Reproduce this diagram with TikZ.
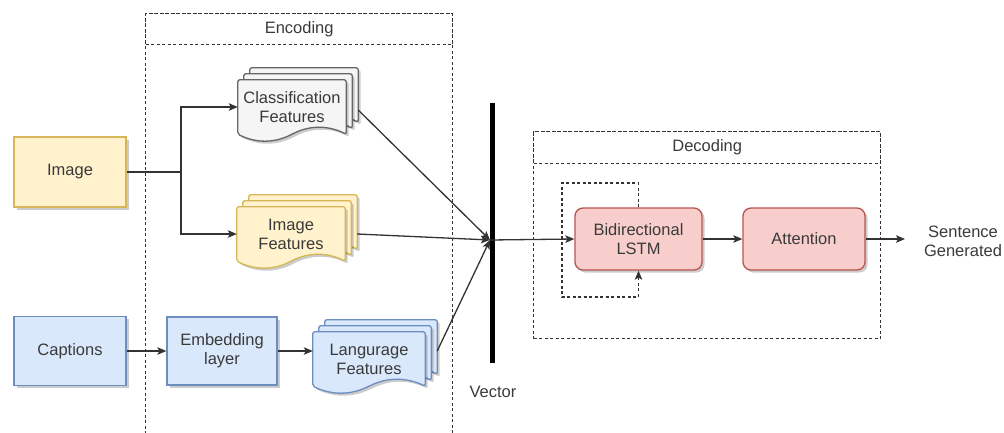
\documentclass[tikz,border=0pt]{standalone}
\usepackage{fontspec}
\setmainfont{Liberation Sans}
\usetikzlibrary{arrows.meta,calc,shadows,backgrounds}

\definecolor{yfill}{HTML}{FFF2CC}\definecolor{yline}{HTML}{D6B656}
\definecolor{bfill}{HTML}{DAE8FC}\definecolor{bline}{HTML}{6C8EBF}
\definecolor{gfill}{HTML}{F5F5F5}\definecolor{gline}{HTML}{666666}
\definecolor{rfill}{HTML}{F8CECC}\definecolor{rline}{HTML}{B85450}
\definecolor{ink}{HTML}{3A3A3A}

% three stacked pages with a wavy lower edge, behind the node #1
\newcommand\docstack[2]{%
  \foreach \d in {12,6,0}{%
    \path[#2] let \p1=(#1.north west), \p2=(#1.south east), \n1={\x2-\x1} in
      ({\x1+\d pt},{\y1+\d pt}) -- ({\x2+\d pt},{\y1+\d pt}) -- ({\x2+\d pt},{\y2+\d pt})
      .. controls ({\x2+\d pt-\n1/6},{\y2+\d pt+9pt}) and ({\x2+\d pt-\n1/3},{\y2+\d pt+9pt}) .. ({\x1+\d pt+\n1/2},{\y2+\d pt})
      .. controls ({\x1+\d pt+\n1/3},{\y2+\d pt-9pt}) and ({\x1+\d pt+\n1/6},{\y2+\d pt-9pt}) .. ({\x1+\d pt},{\y2+\d pt})
      -- cycle;
  }}

\begin{document}
\begin{tikzpicture}[x=1pt,y=-1pt,
  font=\fontsize{16.5}{19}\selectfont,
  every node/.style={text=ink, align=center},
  shade3/.style={drop shadow={shadow xshift=2.5pt,shadow yshift=-2.5pt,opacity=0.2,fill=black}},
  box/.style={rectangle, line width=1.3pt, shade3},
  ybox/.style={box, fill=yfill, draw=yline},
  bbox/.style={box, fill=bfill, draw=bline},
  rbox/.style={box, fill=rfill, draw=rline, rounded corners=8pt},
  doctext/.style={rectangle, inner sep=0pt},
  gdoc/.style={fill=gfill, draw=gline, line width=1.3pt, rounded corners=2pt, shade3},
  ydoc/.style={fill=yfill, draw=yline, line width=1.3pt, rounded corners=2pt, shade3},
  bdoc/.style={fill=bfill, draw=bline, line width=1.3pt, rounded corners=2pt, shade3},
  dashbox/.style={rectangle, draw=black!80, line width=1.4pt, dash pattern=on 3pt off 2.5pt, inner sep=0pt},
  conn/.style={draw=black!80, line width=1.3pt},
  arr/.style={conn, -{Stealth[length=9pt,width=7.5pt,inset=2pt]}},
  loopline/.style={conn, line width=1.4pt, dash pattern=on 3pt off 2.5pt, -{Stealth[length=9pt,width=7.5pt,inset=2pt]}},
]
\useasboundingbox (0,0) rectangle (1004,432);
\clip (0,0) rectangle (1004,432);

% containers
\node[dashbox, anchor=north west, minimum width=307, minimum height=437] (enc) at (145,13) {};
\node[dashbox, anchor=north west, minimum width=307, minimum height=31] (ench) at (145,13) {Encoding};
\node[dashbox, anchor=north west, minimum width=347, minimum height=207] (dec) at (533,131) {};
\node[dashbox, anchor=north west, minimum width=347, minimum height=32] (dech) at (533,131) {Decoding};

% inputs and plain blocks
\node[ybox, minimum width=112, minimum height=70] (img) at (70,172) {Image};
\node[bbox, minimum width=112, minimum height=69] (cap) at (70,351) {Captions};
\node[bbox, minimum width=110, minimum height=68] (emb) at (222,351) {Embedding\\layer};

% feature stacks (text on the front page)
\node[doctext, minimum width=108, minimum height=54] (cls) at (292,107) {Classification\\Features};
\node[doctext, minimum width=108, minimum height=54] (imf) at (291,234) {Image\\Features};
\node[doctext, minimum width=112, minimum height=54] (lang) at (369,359) {Langurage\\Features};

\begin{scope}[on background layer]
  \docstack{cls}{gdoc}
  \docstack{imf}{ydoc}
  \docstack{lang}{bdoc}
\end{scope}

% vector bar
\node[rectangle, fill=black, inner sep=0pt, minimum width=5, minimum height=260] (vec) at (492,233) {};
\node (veclabel) at (493,392) {Vector};
\coordinate (vin) at (490,240);

% decoder blocks
\node[rbox, minimum width=127, minimum height=62] (lstm) at (638.5,239) {Bidirectional\\LSTM};
\node[rbox, minimum width=122, minimum height=62] (att) at (804,239) {Attention};
\node (sent) at (963,241) {Sentence\\Generated};
\coordinate (out) at (905,239);

% image branch
\coordinate (split) at (181,172);
\draw[conn] (img.east) -- (split);
\draw[arr] (split) |- (cls.west);
\draw[arr] (split) |- (imf.west);

% caption branch
\draw[arr] (cap.east) -- (emb.west);
\draw[arr] (emb.east) -- (emb.east -| lang.west);

% features into the vector
\draw[arr] ([xshift=12pt,yshift=-3pt]cls.east) -- (vin);
\draw[arr] ([xshift=12pt]imf.east) -- (vin);
\draw[arr] ([xshift=12pt,yshift=8pt]lang.east) -- (vin);

% decoder chain
\draw[arr] (vin) -- (lstm.west);
\draw[arr] (lstm.east) -- (att.west);
\draw[arr] (att.east) -- (out);

% recurrent loop around the LSTM
\coordinate (lt) at (562,183);
\coordinate (lb) at (562,297);
\draw[loopline] (lstm.north) |- (lt) -- (lb) -| (lstm.south);
\end{tikzpicture}
\end{document}
